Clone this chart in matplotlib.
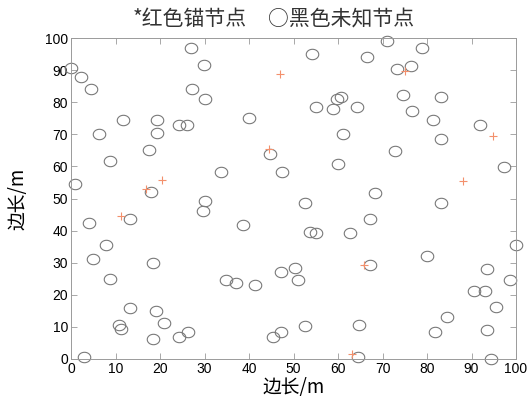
import numpy as np
import matplotlib
matplotlib.use("Agg")
import matplotlib.pyplot as plt
from matplotlib.path import Path

plt.rcParams['font.family'] = ['Liberation Sans', 'Noto Sans CJK SC', 'DejaVu Sans']

# unknown nodes (black circles)
unknown_x = [0.1, 2.2, 4.4, 6.2, 8.8, 11.7, 0.9, 17.6, 19.4, 19.4, 24.2, 26.0, 26.9, 29.9, 27.3,
             30.2, 39.9, 33.8, 47.5, 44.8, 17.9, 70.9, 78.9, 54.2, 66.5, 73.3, 76.5, 74.5, 83.2, 60.7,
             59.8, 55.1, 58.8, 64.3, 76.7, 81.4, 92.0, 61.2, 83.2, 72.9, 59.9, 97.3, 68.4, 52.5, 83.2,
             30.0, 29.7, 13.2, 4.0, 38.7, 7.9, 4.9, 18.5, 8.8, 34.8, 37.0, 41.4, 47.1, 50.3, 13.2,
             19.0, 20.9, 10.8, 11.2, 26.2, 24.3, 18.5, 47.1, 45.4, 2.9, 67.1, 53.7, 55.1, 62.8, 100.0,
             80.1, 67.3, 51.1, 93.4, 98.6, 90.5, 93.0, 95.6, 84.6, 52.5, 64.8, 81.7, 93.4, 64.4, 94.3]
unknown_y = [90.6, 87.8, 84.0, 70.1, 61.7, 74.4, 54.5, 65.0, 74.4, 70.5, 73.0, 73.0, 96.9, 91.5, 84.2,
             81.1, 75.0, 58.3, 58.3, 63.8, 52.0, 99.0, 97.0, 95.1, 94.1, 90.4, 91.3, 82.3, 81.7, 81.7,
             81.1, 78.4, 77.8, 78.6, 77.3, 74.5, 73.0, 70.0, 68.4, 64.9, 60.7, 59.7, 51.6, 48.7, 48.7,
             49.2, 46.2, 43.7, 42.5, 41.7, 35.4, 31.3, 29.8, 24.8, 24.7, 23.6, 23.2, 27.0, 28.2, 15.8,
             15.1, 11.2, 10.5, 9.2, 8.5, 6.9, 6.2, 8.4, 6.9, 0.6, 43.7, 39.7, 39.3, 39.3, 35.6,
             32.0, 29.4, 24.7, 28.0, 24.7, 21.3, 21.3, 16.1, 13.0, 10.3, 10.7, 8.5, 9.0, 0.6, 0.1]

# anchor nodes (red asterisks)
anchor_x = [16.9, 20.5, 11.2, 44.6, 46.9, 75.0, 94.9, 88.0, 65.8, 63.2]
anchor_y = [53.0, 55.7, 44.4, 65.4, 88.8, 89.8, 69.6, 55.6, 29.4, 1.6]

ticks = list(range(0, 101, 10))
title_left = "*红色锚节点"
title_right = "○黑色未知节点"
xlabel_text = "边长/m"
ylabel_text = "边长/m"

W, H = 528, 405

# elliptical marker (wider than tall)
t = np.linspace(0, 2 * np.pi, 60)
ell = Path(np.column_stack([1.2 * np.cos(t), np.sin(t)]), closed=True)

fig = plt.figure(figsize=(W / 100, H / 100), dpi=100)
ax = fig.add_axes([71 / W, 1 - 359 / H, (516 - 71) / W, (359 - 38) / H])

ax.plot(unknown_x, unknown_y, linestyle='none', marker=ell, markersize=9,
        markerfacecolor='none', markeredgecolor='#7a7a7a', markeredgewidth=0.8, clip_on=False)
ax.plot(anchor_x, anchor_y, linestyle='none', marker='+', markersize=6,
        markeredgecolor='#f3906c', markeredgewidth=0.8, clip_on=False)

ax.set_xlim(0, 100)
ax.set_ylim(0, 100)
ax.set_xticks(ticks)
ax.set_yticks(ticks)
ax.tick_params(direction='in', top=True, right=True, length=4, width=0.6,
               color='#9a9a9a', labelsize=10, pad=2, labelcolor='black')
for s in ax.spines.values():
    s.set_color('#9a9a9a')
    s.set_linewidth(0.7)

cjk = ['Noto Sans CJK SC', 'DejaVu Sans']
fig.text(133 / W, 1 - 19 / H, title_left, fontsize=15, family=cjk,
         ha='left', va='center', color='#333333')
fig.text(268 / W, 1 - 19 / H, title_right, fontsize=15, family=cjk,
         ha='left', va='center', color='#333333')
ax.set_xlabel(xlabel_text, fontsize=13.5, family=cjk, labelpad=1)
ax.set_ylabel(ylabel_text, fontsize=13.5, family=cjk, labelpad=12)

fig.savefig("out.png", dpi=100)
